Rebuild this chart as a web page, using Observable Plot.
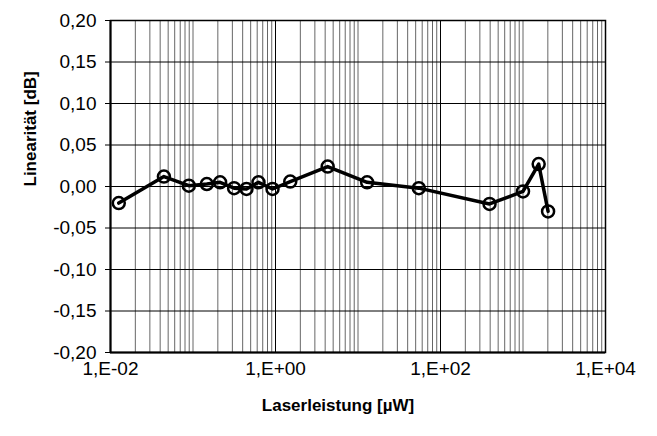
<!DOCTYPE html>
<html>
<head>
<meta charset="utf-8">
<script src="https://cdn.jsdelivr.net/npm/d3@7"></script>
<script src="https://cdn.jsdelivr.net/npm/@observablehq/plot@0.6"></script>
<style>
  html, body { margin: 0; padding: 0; background: #fff; }
  #chart svg { display: block; }
</style>
</head>
<body>
<div id="chart"></div>
<script>
const power = [0.0126, 0.0444, 0.089, 0.147, 0.213, 0.315, 0.445, 0.622, 0.92, 1.51, 4.29, 12.9, 54.6, 393, 1000, 1549, 2014];
const linearity = [-0.020, 0.012, 0.001, 0.003, 0.005, -0.002, -0.003, 0.005, -0.003, 0.006, 0.024, 0.005, -0.002, -0.021, -0.006, 0.027, -0.030];
const xTickValues = [0.01, 1, 100, 10000];
const xTickLabels = ["1,E-02", "1,E+00", "1,E+02", "1,E+04"];
const yTickValues = [-0.2, -0.15, -0.1, -0.05, 0, 0.05, 0.1, 0.15, 0.2];

const data = power.map((p, i) => ({p, v: linearity[i]}));
const minorX = d3.scaleLog().domain([0.01, 10000]).ticks().filter(t => t > 0.01 && t < 10000);
const majorX = [1, 100];

const fmtY = d => d.toFixed(2).replace(".", ",");
const fmtX = d => xTickLabels[xTickValues.indexOf(d)];

const chart = Plot.plot({
  width: 657,
  height: 436,
  marginLeft: 110,
  marginRight: 52,
  marginTop: 20,
  marginBottom: 84,
  style: {fontFamily: "'Liberation Sans', Arial, sans-serif", fontSize: "19px", color: "#000", background: "#fff"},
  x: {type: "log", domain: [0.01, 10000]},
  y: {domain: [-0.2, 0.2]},
  marks: [
    Plot.gridX(minorX, {stroke: "#000", strokeOpacity: 0.6, strokeWidth: 1}),
    Plot.gridX(majorX, {stroke: "#000", strokeOpacity: 1, strokeWidth: 1}),
    Plot.gridY(yTickValues, {stroke: "#000", strokeOpacity: 1, strokeWidth: 1}),
    Plot.frame({stroke: "#000", strokeWidth: 1.5}),
    Plot.ruleX([0.01], {stroke: "#000", strokeWidth: 2}),
    Plot.ruleY([-0.2], {stroke: "#000", strokeWidth: 2}),
    Plot.axisY(yTickValues, {tickFormat: fmtY, tickSize: 5, tickPadding: 9, fontSize: 19, label: null}),
    Plot.axisX(xTickValues, {tickFormat: fmtX, tickSize: 0, tickPadding: 9, fontSize: 19, label: null}),
    Plot.text(["Linearität [dB]"], {frameAnchor: "left", dx: -80, rotate: -90, fontWeight: "bold", fontSize: 17}),
    Plot.text(["Laserleistung [µW]"], {frameAnchor: "bottom", dx: -20, dy: 58, fontWeight: "bold", fontSize: 17}),
    Plot.line(data, {x: "p", y: "v", stroke: "#000", strokeWidth: 3.5}),
    Plot.dot(data, {x: "p", y: "v", r: 6, stroke: "#000", strokeWidth: 2.5, fill: "none"})
  ]
});
document.getElementById("chart").appendChild(chart);
</script>
</body>
</html>
